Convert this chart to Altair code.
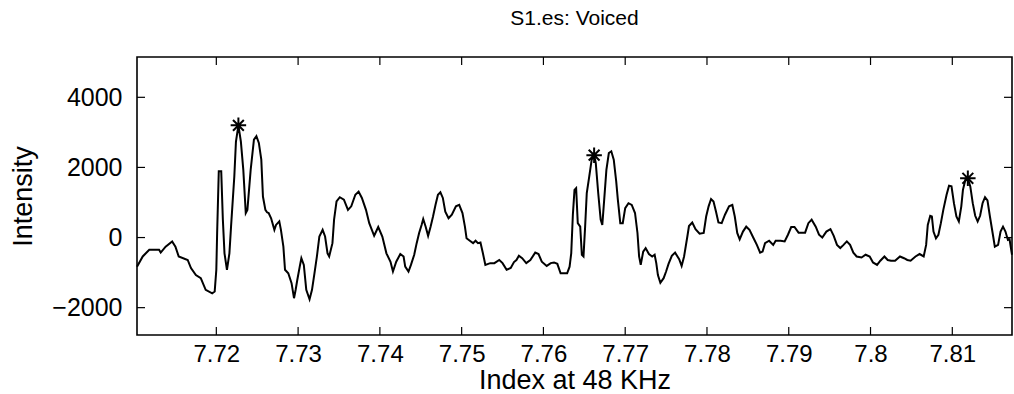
import altair as alt
import pandas as pd

# Waveform samples (sample index at 48 kHz, intensity)
sample_index = [
    77103, 77110, 77118, 77130, 77132, 77138, 77146, 77150, 77154, 77165,
    77169, 77175, 77181, 77187, 77195, 77198, 77200, 77201, 77203, 77206,
    77208, 77210, 77213, 77216, 77218, 77222, 77224, 77227, 77230, 77233,
    77236, 77238, 77242, 77246, 77249, 77252, 77255, 77257, 77260, 77262,
    77264, 77267, 77271, 77273, 77277, 77279, 77282, 77284, 77288, 77292,
    77295, 77297, 77299, 77302, 77304, 77307, 77310, 77314, 77317, 77320,
    77323, 77326, 77330, 77333, 77336, 77338, 77342, 77344, 77347, 77351,
    77356, 77361, 77365, 77370, 77374, 77378, 77383, 77387, 77393, 77398,
    77403, 77408, 77413, 77416, 77420, 77425, 77429, 77431, 77435, 77438,
    77442, 77445, 77448, 77451, 77453, 77456, 77459, 77462, 77465, 77468,
    77471, 77474, 77477, 77480, 77484, 77488, 77493, 77497, 77501, 77504,
    77506, 77510, 77514, 77517, 77520, 77523, 77526, 77529, 77535, 77540,
    77546, 77550, 77555, 77560, 77564, 77567, 77570, 77574, 77579, 77584,
    77590, 77594, 77598, 77604, 77609, 77613, 77617, 77621, 77625, 77629,
    77632, 77634, 77636, 77638, 77640, 77642, 77645, 77647, 77649, 77651,
    77653, 77656, 77659, 77662, 77664, 77667, 77670, 77672, 77674, 77677,
    77680, 77683, 77686, 77689, 77691, 77694, 77697, 77700, 77704, 77708,
    77712, 77715, 77717, 77719, 77722, 77725, 77729, 77733, 77736, 77738,
    77740, 77743, 77747, 77750, 77753, 77757, 77761, 77766, 77769, 77772,
    77776, 77778, 77782, 77786, 77791, 77796, 77799, 77802, 77805, 77808,
    77811, 77814, 77818, 77822, 77827, 77831, 77834, 77837, 77840, 77844,
    77848, 77852, 77857, 77861, 77865, 77868, 77871, 77876, 77881, 77884,
    77890, 77895, 77899, 77903, 77907, 77912, 77920, 77924, 77928, 77933,
    77937, 77941, 77946, 77951, 77955, 77959, 77963, 77967, 77971, 77975,
    77979, 77983, 77989, 77994, 77999, 78003, 78008, 78012, 78017, 78021,
    78025, 78030, 78036, 78041, 78045, 78049, 78055, 78060, 78065, 78068,
    78070, 78073, 78075, 78077, 78080, 78083, 78086, 78089, 78093, 78096,
    78099, 78102, 78105, 78108, 78111, 78113, 78116, 78119, 78122, 78125,
    78128, 78131, 78134, 78137, 78140, 78143, 78146, 78150, 78152, 78156,
    78159, 78162, 78165, 78168, 78170, 78173,
]
intensity = [
    -830, -540, -350, -350, -430, -260, -110, -260, -540, -640,
    -870, -1070, -1160, -1490, -1590, -1540, -920, 130, 1890, 1890,
    510, -450, -920, -450, 310, 1740, 2740, 3200, 2740, 1930,
    700, 790, 1930, 2790, 2890, 2700, 2220, 1170, 790, 720,
    700, 550, 220, 360, 460, 220, -260, -920, -1020, -1300,
    -1730, -1490, -1210, -830, -590, -780, -1490, -1760, -1490, -1020,
    -540, 30, 220, 30, -450, -540, -160, 510, 1030, 1150,
    1080, 790, 890, 1220, 1310, 1130, 790, 410, 50, 300,
    30, -450, -690, -970, -690, -470, -540, -830, -970, -780,
    -490, -160, 130, 360, 530, 310, 50, 310, 600, 930,
    1220, 1290, 1130, 740, 550, 650, 890, 930, 700, 310,
    -20, -90, -160, -90, -160, -140, -450, -780, -730, -730,
    -640, -730, -920, -870, -700, -640, -520, -590, -730, -640,
    -430, -470, -690, -810, -730, -710, -750, -1020, -1020, -1020,
    -830, -450, 650, 1360, 1410, 410, 310, -490, -540, 310,
    1270, 1740, 2220, 2350, 2130, 1270, 510, 360, 980, 1930,
    2410, 2460, 2220, 1600, 1080, 410, 410, 840, 980, 930,
    700, 130, -540, -780, -400, -300, -470, -540, -490, -730,
    -1070, -1290, -1160, -970, -750, -520, -430, -620, -810, -540,
    30, 330, 430, 240, 110, 130, 600, 890, 1100, 1030,
    740, 430, 410, 650, 890, 930, 600, 130, -50, 170,
    310, 220, -20, -210, -430, -400, -160, -90, -210, -90,
    -90, -110, 80, 300, 300, 140, 140, 410, 510, 310,
    80, 0, 170, 240, 50, -210, -300, -210, -110, -210,
    -430, -540, -570, -490, -540, -710, -780, -660, -540, -640,
    -660, -660, -540, -590, -640, -660, -540, -470, -540, -210,
    360, 620, 600, 170, -20, 80, 410, 790, 1220, 1480,
    1460, 980, 600, 460, 890, 1360, 1650, 1690, 1460, 980,
    620, 460, 620, 980, 1150, 1060, 600, 30, -260, -210,
    170, 310, 170, -70, -50, -490,
]

# Pitch marks placed on the voiced peaks
peak_index = [77227, 77662, 78119]
peak_intensity = [3200, 2350, 1690]

# Axis ticks (x shown in units of 10^4 samples)
x_ticks = [7.72, 7.73, 7.74, 7.75, 7.76, 7.77, 7.78, 7.79, 7.80, 7.81]
y_ticks = [-2000, 0, 2000, 4000]

W, H = 875, 278
TICK_LEN = 8
FONT = "Liberation Sans, Arial, Helvetica, sans-serif"

wave = pd.DataFrame({"t": [i / 1e4 for i in sample_index], "v": intensity})
peaks = pd.DataFrame({"t": [i / 1e4 for i in peak_index], "v": peak_intensity})
xt = pd.DataFrame({"t": x_ticks})
yt = pd.DataFrame({"v": y_ticks})

xs = alt.Scale(domain=[7.7103, 7.8173], nice=False, zero=False)
ys = alt.Scale(domain=[-2780, 5150], nice=False, zero=False)

x_axis = alt.Axis(
    values=x_ticks,
    labelExpr="format(datum.value, '.2~f')",
    title="Index at 48 KHz",
    ticks=False, domain=False, grid=False,
    labelFontSize=24,
    labelPadding=19, labelBaseline="middle", labelFlush=False,
    titleFontSize=27,
    titleY=45.5, titleBaseline="middle",
)
y_axis = alt.Axis(
    values=y_ticks,
    format="d",
    title="Intensity",
    ticks=False, domain=False, grid=False,
    labelFontSize=25,
    labelPadding=15, labelBaseline="middle", labelFlush=False,
    titleFontSize=27,
    titleX=-114, titleY=H / 2, titleBaseline="middle", titleAngle=270,
)

line = alt.Chart(wave).mark_line(color="black", strokeWidth=2).encode(
    x=alt.X("t:Q", scale=xs, axis=x_axis),
    y=alt.Y("v:Q", scale=ys, axis=y_axis),
)

star_path = "M-1,0L1,0M0,-1L0,1M-0.7,-0.7L0.7,0.7M-0.7,0.7L0.7,-0.7"
stars = alt.Chart(peaks).mark_point(
    shape=star_path, filled=False, size=240, stroke="black", strokeWidth=2, opacity=1
).encode(x=alt.X("t:Q", scale=xs), y=alt.Y("v:Q", scale=ys))

# Inward tick marks on all four sides of the box
tick_bottom = alt.Chart(xt).mark_rule(color="black", strokeWidth=1.2).encode(
    x=alt.X("t:Q", scale=xs), y=alt.value(H), y2=alt.value(H - TICK_LEN)
)
tick_top = alt.Chart(xt).mark_rule(color="black", strokeWidth=1.2).encode(
    x=alt.X("t:Q", scale=xs), y=alt.value(0), y2=alt.value(TICK_LEN)
)
tick_left = alt.Chart(yt).mark_rule(color="black", strokeWidth=1.2).encode(
    y=alt.Y("v:Q", scale=ys), x=alt.value(0), x2=alt.value(TICK_LEN)
)
tick_right = alt.Chart(yt).mark_rule(color="black", strokeWidth=1.2).encode(
    y=alt.Y("v:Q", scale=ys), x=alt.value(W), x2=alt.value(W - TICK_LEN)
)

chart = (
    alt.layer(line, stars, tick_bottom, tick_top, tick_left, tick_right)
    .properties(
        width=W,
        height=H,
        title=alt.TitleParams(
            "S1.es: Voiced", font=FONT, fontSize=21, fontWeight="normal",
            anchor="middle", baseline="alphabetic", offset=10, color="black",
        ),
        autosize=alt.AutoSizeParams(type="none"),
        padding={"left": 137, "top": 57, "right": 2, "bottom": 59},
        background="white",
    )
    .configure_view(stroke="black", strokeWidth=1.6)
    .configure_axis(
        labelFont=FONT, titleFont=FONT,
        labelColor="black", titleColor="black", titleFontWeight="normal",
    )
)

chart.save("out.html", embed_options={"renderer": "svg", "actions": False})
